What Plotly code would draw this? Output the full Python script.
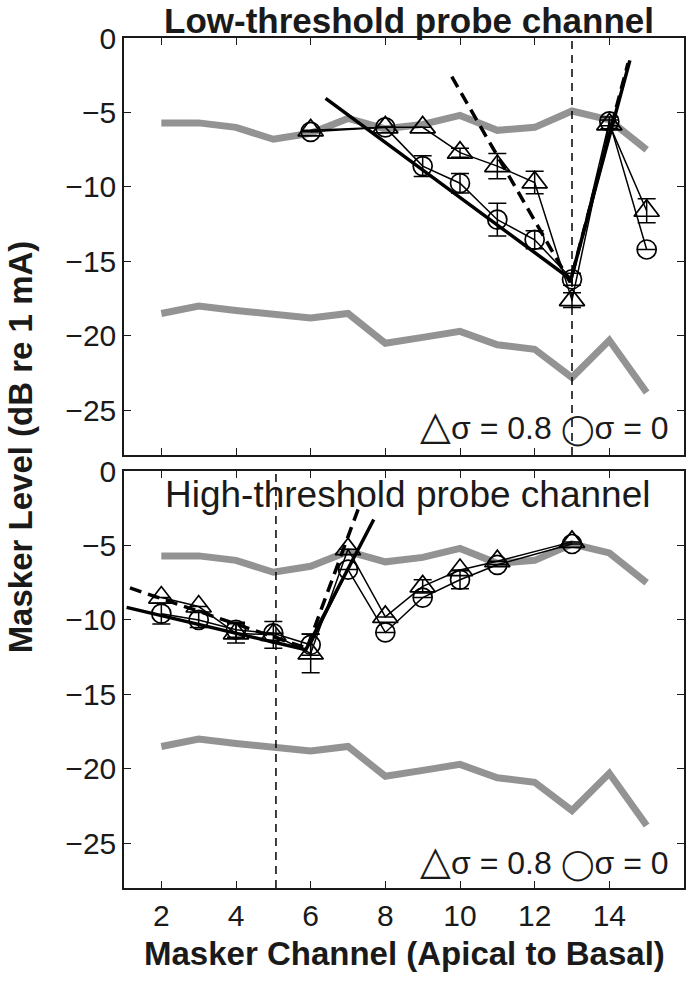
import plotly.graph_objects as go

# ---------------- data ----------------
channels = [2, 3, 4, 5, 6, 7, 8, 9, 10, 11, 12, 13, 14, 15]
gray_upper = [-5.7, -5.7, -6.0, -6.8, -6.4, -5.4, -6.1, -5.8, -5.2, -6.2, -6.0, -4.9, -5.5, -7.5]
gray_lower = [-18.5, -18.0, -18.3, -18.5, -18.8, -18.5, -20.5, -20.1, -19.7, -20.6, -20.9, -22.8, -20.3, -23.8]

# Low-threshold probe channel (top)
low_x = [6, 8, 9, 10, 11, 12, 13, 14, 15]
low_tri = [-6.2, -6.0, -6.0, -7.7, -8.6, -9.7, -17.6, -5.8, -11.6]
low_tri_err = [0, 0, 0, 0.3, 0.85, 0.75, 0.5, 0.3, 0.8]
low_circ = [-6.3, -6.0, -8.6, -9.75, -12.2, -13.55, -16.2, -5.6, -14.2]
low_circ_err = [0, 0, 0.7, 0.65, 1.1, 0.6, 0.4, 0.3, 0]
low_fit_solid_x = [6.4, 12.97, 14.55]
low_fit_solid_y = [-4.05, -16.2, -1.5]
low_fit_dash_x = [9.78, 12.95, 14.5]
low_fit_dash_y = [-2.6, -16.4, -1.7]
low_probe = 13

# High-threshold probe channel (bottom)
high_x = [2, 3, 4, 5, 6, 7, 8, 9, 10, 11, 13]
high_tri = [-8.5, -9.1, -10.9, -11.0, -12.25, -5.25, -9.8, -7.75, -6.65, -6.06, -4.76]
high_tri_err = [0, 0, 0.65, 0.9, 1.3, 0, 0, 0.45, 0, 0, 0]
high_circ = [-9.58, -10.0, -10.66, -10.9, -11.67, -6.62, -10.84, -8.5, -7.3, -6.3, -4.9]
high_circ_err = [0.7, 0.5, 0.5, 0, 0.7, 0, 0, 0, 0.6, 0, 0]
high_fit_solid_x = [1.07, 5.87, 7.69]
high_fit_solid_y = [-9.16, -12.0, -3.26]
high_fit_dash_x = [1.16, 5.9, 7.34]
high_fit_dash_y = [-7.85, -11.9, -2.1]
high_probe = 5.07

x_ticks = [2, 4, 6, 8, 10, 12, 14, 16]
y_ticks = [0, -5, -10, -15, -20, -25]

FONT = "Liberation Sans, Arial, Helvetica, sans-serif"
GRAY = "#939393"

fig = go.Figure()


def add_panel(xa, ya, dx, tri, tri_err, circ, circ_err, fsx, fsy, fdx, fdy):
    for g in (gray_upper, gray_lower):
        fig.add_trace(go.Scatter(x=channels, y=g, mode="lines",
                                 line=dict(color=GRAY, width=7),
                                 xaxis=xa, yaxis=ya, showlegend=False, hoverinfo="skip"))
    fig.add_trace(go.Scatter(x=dx, y=circ, mode="lines+markers",
                             line=dict(color="black", width=1.5),
                             marker=dict(symbol="circle-open", size=19, color="black",
                                         line=dict(width=1.7, color="black")),
                             error_y=dict(type="data", array=circ_err, visible=True,
                                          color="black", thickness=1.5, width=9),
                             xaxis=xa, yaxis=ya, showlegend=False))
    fig.add_trace(go.Scatter(x=dx, y=tri, mode="lines+markers",
                             line=dict(color="black", width=1.5),
                             marker=dict(symbol="triangle-up-open", size=22, color="black",
                                         line=dict(width=1.7, color="black")),
                             error_y=dict(type="data", array=tri_err, visible=True,
                                          color="black", thickness=1.5, width=9),
                             xaxis=xa, yaxis=ya, showlegend=False))
    fig.add_trace(go.Scatter(x=fsx, y=fsy, mode="lines",
                             line=dict(color="black", width=3.5),
                             xaxis=xa, yaxis=ya, showlegend=False))
    fig.add_trace(go.Scatter(x=fdx, y=fdy, mode="lines",
                             line=dict(color="black", width=3.5, dash="12px,7px"),
                             xaxis=xa, yaxis=ya, showlegend=False))


add_panel("x2", "y2", low_x, low_tri, low_tri_err, low_circ, low_circ_err,
          low_fit_solid_x, low_fit_solid_y, low_fit_dash_x, low_fit_dash_y)
add_panel("x", "y", high_x, high_tri, high_tri_err, high_circ, high_circ_err,
          high_fit_solid_x, high_fit_solid_y, high_fit_dash_x, high_fit_dash_y)

# probe-channel markers (vertical dashed lines)
fig.add_shape(type="line", xref="x2", yref="y2 domain", x0=low_probe, x1=low_probe, y0=0, y1=1,
              line=dict(color="black", width=1.5, dash="8px,6px"))
fig.add_shape(type="line", xref="x", yref="y domain", x0=high_probe, x1=high_probe, y0=0, y1=1,
              line=dict(color="black", width=1.5, dash="8px,6px"))

axis_common = dict(showline=True, linecolor="#1a1a1a", linewidth=1.5, mirror="ticks",
                   ticks="inside", ticklen=7, tickwidth=1.2, tickcolor="#1a1a1a",
                   showgrid=False, zeroline=False,
                   tickfont=dict(family=FONT, size=30, color="#1a1a1a"))

h = 417 / 850
fig.update_layout(
    width=696, height=981,
    margin=dict(l=124, r=10, t=38, b=93),
    paper_bgcolor="white", plot_bgcolor="white",
    showlegend=False,
    xaxis=dict(range=[1, 16], tickvals=x_ticks, domain=[0, 1], anchor="y", **axis_common),
    yaxis=dict(range=[-28, 0], tickvals=y_ticks, domain=[0, h], anchor="x", **axis_common),
    xaxis2=dict(range=[1, 16], tickvals=x_ticks, domain=[0, 1], anchor="y2",
                showticklabels=False, **axis_common),
    yaxis2=dict(range=[-28, 0], tickvals=y_ticks, domain=[1 - h, 1], anchor="x2", **axis_common),
)

legend_text = ("<span style='font-size:40px'>△</span>σ = 0.8 "
               "<span style='font-size:30px'>◯</span>σ = 0")
annotations = [
    dict(text="<b>Low-threshold probe channel</b>", xref="paper", yref="paper",
         x=(410 - 124) / 562, y=1, xanchor="center", yanchor="top", yshift=38,
         borderpad=0, showarrow=False, font=dict(family=FONT, size=35, color="#1a1a1a")),
    dict(text="High-threshold probe channel", xref="x", yref="y",
         x=8.6, y=-1.6, xanchor="center", yanchor="middle", showarrow=False,
         font=dict(family=FONT, size=37, color="#1a1a1a")),
    dict(text=legend_text, xref="x2", yref="y2", x=15.65, y=-26.0,
         xanchor="right", yanchor="middle", showarrow=False,
         font=dict(family=FONT, size=32, color="#1a1a1a")),
    dict(text=legend_text, xref="x", yref="y", x=15.65, y=-26.1,
         xanchor="right", yanchor="middle", showarrow=False,
         font=dict(family=FONT, size=32, color="#1a1a1a")),
    dict(text="<b>Masker Level (dB re 1 mA)</b>", xref="paper", yref="paper",
         x=(20 - 124) / 562, y=(888 - 447) / 850, xanchor="center", yanchor="middle",
         textangle=-90, showarrow=False,
         font=dict(family=FONT, size=33, color="#1a1a1a")),
    dict(text="<b>Masker Channel (Apical to Basal)</b>", xref="paper", yref="paper",
         x=(406 - 124) / 562, y=(888 - 953) / 850, xanchor="center", yanchor="middle",
         showarrow=False,
         font=dict(family=FONT, size=33, color="#1a1a1a")),
]
fig.update_layout(annotations=annotations)

fig.write_html("out.html", config={"displayModeBar": False},
               post_script="document.body.style.margin='0px';document.body.style.padding='0px';")
